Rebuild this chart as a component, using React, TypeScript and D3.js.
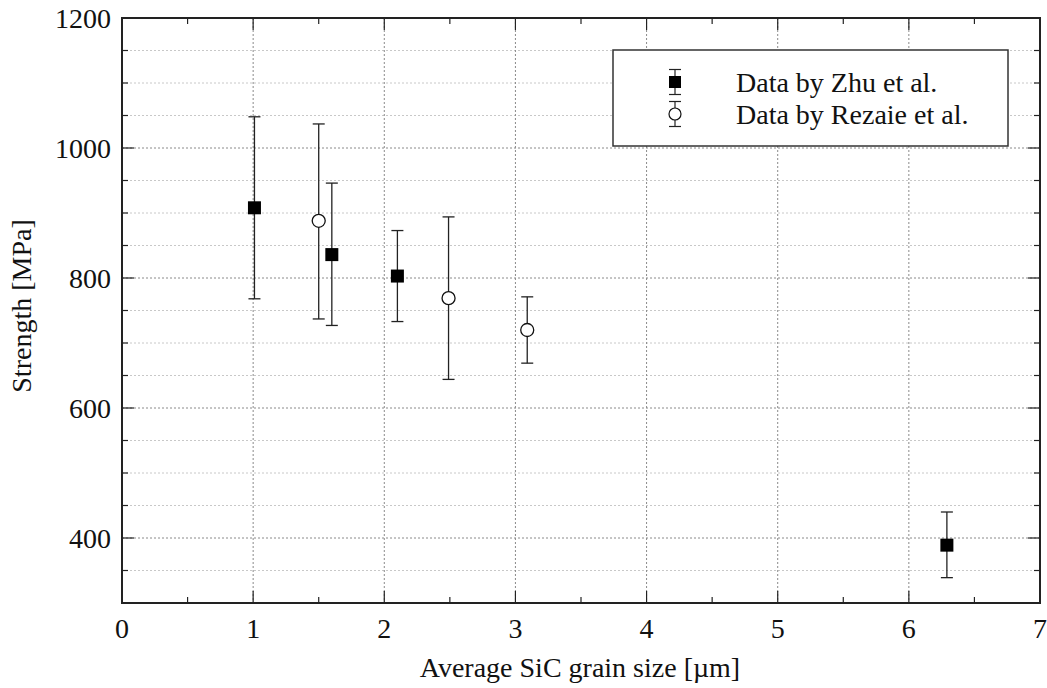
import React from "react";
import * as d3 from "d3";

const zhuX = [1.01, 1.6, 2.1, 6.29];
const zhuY = [908, 836, 803, 389];
const zhuLo = [768, 727, 733, 339];
const zhuHi = [1048, 946, 873, 440];

const rezX = [1.5, 2.49, 3.09];
const rezY = [888, 769, 720];
const rezLo = [737, 644, 669];
const rezHi = [1037, 894, 771];

const xTicks = [0, 1, 2, 3, 4, 5, 6, 7];
const yTicks = [400, 600, 800, 1000, 1200];
const legendLabels = ["Data by Zhu et al.", "Data by Rezaie et al."];

const W = 1047, H = 688;
const L = 122, R = 1040, T = 18, B = 603;
const FONT = "Liberation Serif";
const FS = 28;

export default function App() {
  const x = d3.scaleLinear().domain([0, 7]).range([L, R]);
  const y = d3.scaleLinear().domain([300, 1200]).range([B, T]);
  const xMinor = d3.range(0, 7.01, 0.5);
  const yMinor = d3.range(300, 1201, 50);

  const zhu = zhuX.map((v, i) => ({ x: v, y: zhuY[i], lo: zhuLo[i], hi: zhuHi[i] }));
  const rez = rezX.map((v, i) => ({ x: v, y: rezY[i], lo: rezLo[i], hi: rezHi[i] }));

  const err = (d: any, k: string) => (
    <g key={k} stroke="#222" strokeWidth={1.3}>
      <line x1={x(d.x)} x2={x(d.x)} y1={y(d.lo)} y2={y(d.hi)} />
      <line x1={x(d.x) - 6} x2={x(d.x) + 6} y1={y(d.lo)} y2={y(d.lo)} />
      <line x1={x(d.x) - 6} x2={x(d.x) + 6} y1={y(d.hi)} y2={y(d.hi)} />
    </g>
  );

  const lx = 675;
  const ly = [82, 114];
  const txt = { fontFamily: FONT, fontSize: FS, fill: "#111" } as any;

  return (
    <svg width={W} height={H} style={{ position: "absolute", left: 0, top: 0, background: "#fff" }}>
      <rect x={0} y={0} width={W} height={H} fill="#fff" />
      {yMinor.filter((v) => v % 200 !== 0).map((v) => (
        <line key={"gm" + v} x1={L} x2={R} y1={y(v)} y2={y(v)} stroke="#c8c8c8" strokeWidth={1} strokeDasharray="2,2" />
      ))}
      {yTicks.map((v) => (
        <line key={"gM" + v} x1={L} x2={R} y1={y(v)} y2={y(v)} stroke="#8a8a8a" strokeWidth={1} strokeDasharray="2,2" />
      ))}
      {xTicks.map((v) => (
        <line key={"gx" + v} x1={x(v)} x2={x(v)} y1={T} y2={B} stroke="#8a8a8a" strokeWidth={1} strokeDasharray="2,2" />
      ))}

      {xMinor.map((v) => {
        const len = Number.isInteger(v) ? 12 : 6;
        return (
          <g key={"xt" + v} stroke="#222" strokeWidth={1.2}>
            <line x1={x(v)} x2={x(v)} y1={B} y2={B - len} />
            <line x1={x(v)} x2={x(v)} y1={T} y2={T + len} />
          </g>
        );
      })}
      {yMinor.map((v) => {
        const len = v % 200 === 0 ? 12 : 6;
        return (
          <g key={"yt" + v} stroke="#222" strokeWidth={1.2}>
            <line x1={L} x2={L + len} y1={y(v)} y2={y(v)} />
            <line x1={R} x2={R - len} y1={y(v)} y2={y(v)} />
          </g>
        );
      })}

      <rect x={L} y={T} width={R - L} height={B - T} fill="none" stroke="#222" strokeWidth={2} />

      {xTicks.map((v) => (
        <text key={"xl" + v} x={x(v)} y={638} textAnchor="middle" style={txt}>{v}</text>
      ))}
      {yTicks.map((v) => (
        <text key={"yl" + v} x={111} y={y(v) + 9.5} textAnchor="end" style={txt}>{v}</text>
      ))}

      <text x={580} y={677} textAnchor="middle" style={txt}>Average SiC grain size [µm]</text>
      <text transform={`translate(31, 306) rotate(-90)`} textAnchor="middle" style={txt}>Strength [MPa]</text>

      {zhu.map((d, i) => err(d, "ze" + i))}
      {rez.map((d, i) => err(d, "re" + i))}
      {zhu.map((d, i) => (
        <rect key={"zs" + i} x={x(d.x) - 6.5} y={y(d.y) - 6.5} width={13} height={13} fill="#000" />
      ))}
      {rez.map((d, i) => (
        <circle key={"rc" + i} cx={x(d.x)} cy={y(d.y)} r={6.5} fill="#fff" stroke="#111" strokeWidth={1.3} />
      ))}

      <rect x={613} y={50} width={395} height={96} fill="#fff" stroke="#333" strokeWidth={1.5} />
      <g stroke="#222" strokeWidth={1.2}>
        {ly.map((yy, i) => (
          <g key={"lg" + i}>
            <line x1={lx} x2={lx} y1={yy - 12.5} y2={yy + 12.5} />
            <line x1={lx - 6} x2={lx + 6} y1={yy - 12.5} y2={yy - 12.5} />
            <line x1={lx - 6} x2={lx + 6} y1={yy + 12.5} y2={yy + 12.5} />
          </g>
        ))}
      </g>
      <rect x={lx - 6} y={ly[0] - 6} width={12} height={12} fill="#000" />
      <circle cx={lx} cy={ly[1]} r={6} fill="#fff" stroke="#111" strokeWidth={1.2} />
      {legendLabels.map((t, i) => (
        <text key={"lt" + i} x={736} y={ly[i] + 9.5} style={txt}>{t}</text>
      ))}
    </svg>
  );
}
